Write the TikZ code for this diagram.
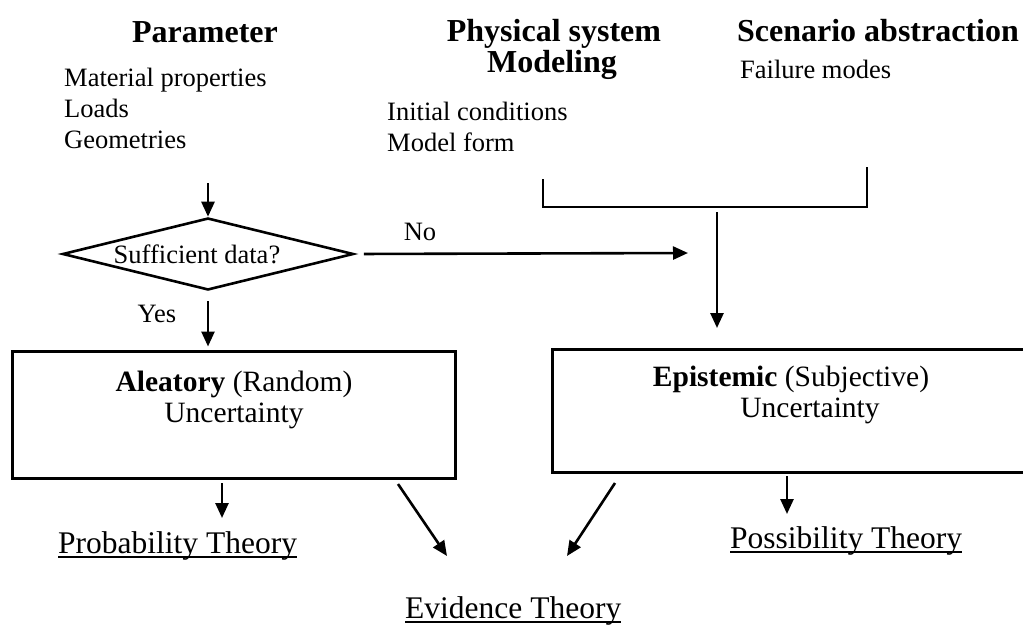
\documentclass[tikz,border=0pt]{standalone}
\usepackage{fontspec}
\setmainfont{Liberation Serif}
\usetikzlibrary{arrows.meta,shapes.geometric}
\begin{document}
\begin{tikzpicture}[x=1pt,y=-1pt,
  hdr/.style={font=\fontsize{32}{34}\selectfont\bfseries, inner sep=0, anchor=base},
  body/.style={font=\fontsize{26.5}{30}\selectfont, inner sep=0, anchor=base west},
  btxt/.style={font=\fontsize{29.5}{32}\selectfont, inner sep=0, anchor=base},
  thy/.style={font=\fontsize{31.5}{34}\selectfont, inner sep=0, anchor=base west},
  arr/.style={line width=2.6pt, -{Triangle[length=15pt,width=13pt]}},
  ln/.style={line width=2.6pt},
  ubox/.style={draw, line width=3pt, inner sep=0, minimum width=#1},
  decide/.style={draw, shape=diamond, line width=2.6pt, inner sep=0, aspect=4,
     minimum width=291pt, minimum height=72pt, font=\fontsize{26.5}{28}\selectfont}
]
\useasboundingbox (0,0) rectangle (1023,625);
\clip (0,0) rectangle (1023,625);

% headers
\node[hdr] (hpar) at (205,42) {Parameter};
\node[hdr] (hphy) at (554,41) {Physical system};
\node[hdr] (hmod) at (552,72) {Modeling};
\node[hdr] (hsce) at (878,41) {Scenario abstraction};

% lists
\node[body] (mat) at (64,86) {Material properties};
\node[body] (loads) at (64,117) {Loads};
\node[body] (geo) at (64,148) {Geometries};
\node[body] (init) at (387,120) {Initial conditions};
\node[body] (mform) at (387,151) {Model form};
\node[body] (fail) at (740,78) {Failure modes};

% decision
\node[decide] (dec) at (208,254) {\hspace*{-22pt}Sufficient data?};
\coordinate (d0) at (208,183);
\draw[arr] (d0) -- (dec.north);

\node[body, anchor=base] (no) at (420,240) {No};
\node[body, anchor=base] (yes) at (157,322) {Yes};
\coordinate (noend) at (688,253);
\draw[arr, shorten <=9pt] (dec.east) -- (noend);

% aleatory box
\node[ubox=443pt, minimum height=127pt] (alea) at (233.5,414.5) {};
\draw[arr, shorten <=10pt, shorten >=3pt] (dec.south) -- (dec.south |- alea.north);
\node[btxt] (aleat1) at (234,391) {\textbf{Aleatory} (Random)};
\node[btxt] (aleat2) at (234,422) {Uncertainty};

% bracket
\coordinate (bl) at (543,179);
\coordinate (br) at (867,167);
\coordinate (bm) at (717,207);
\draw[ln] (bl) -- (bl |- bm) -- (br |- bm) -- (br);
\coordinate (b1) at (717,212);
\coordinate (b2) at (717,328);
\draw[arr] (b1) -- (b2);

% epistemic box (runs past right edge)
\node[ubox=500pt, minimum height=123pt] (epi) at (802,410.5) {};
\node[btxt] (epit1) at (791,386) {\textbf{Epistemic} (Subjective)};
\node[btxt] (epit2) at (810,417) {Uncertainty};

% theories
\node[thy] (prob) at (58,553) {Probability Theory};
\node[thy] (poss) at (730,548) {Possibility Theory};
\node[thy] (evid) at (405,618) {Evidence Theory};
\draw[line width=1.6pt] ([yshift=-4pt]prob.base west) -- ([yshift=-4pt]prob.base east);
\draw[line width=1.6pt] ([yshift=-4pt]poss.base west) -- ([yshift=-4pt]poss.base east);
\draw[line width=1.6pt] ([yshift=-4pt]evid.base west) -- ([yshift=-4pt]evid.base east);

% bottom arrows
\coordinate (p1) at (222,483);
\coordinate (p2) at (222,518);
\draw[arr] (p1) -- (p2);
\coordinate (e1) at (398,484);
\coordinate (e2) at (447,556);
\draw[arr] (e1) -- (e2);
\coordinate (e3) at (615,483);
\coordinate (e4) at (567,556);
\draw[arr] (e3) -- (e4);
\coordinate (s1) at (787,476);
\coordinate (s2) at (787,514);
\draw[arr] (s1) -- (s2);
\end{tikzpicture}
\end{document}
